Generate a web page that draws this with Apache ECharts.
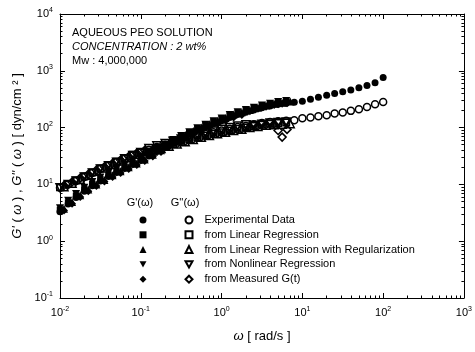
<!DOCTYPE html>
<html>
<head>
<meta charset="utf-8">
<script src="https://cdn.jsdelivr.net/npm/echarts@6/dist/echarts.min.js"></script>
<style>html,body{margin:0;padding:0;background:#fff}#c{width:475px;height:352px}</style>
</head>
<body>
<div id="c"></div>
<script>
// ---- Data ----
const omegaExp = [0.01,0.0126,0.0158,0.02,0.0251,0.0316,0.0398,0.0501,0.0631,0.0794,0.1,0.126,0.158,0.2,0.251,0.316,0.398,0.501,0.631,0.794,1,1.26,1.58,2,2.51,3.16,3.98,5.01,6.31,7.94,10,12.6,15.8,20,25.1,31.6,39.8,50.1,63.1,79.4,100];
const gPrimeExp = [3.3,4.5,5.9,7.6,9.5,11.5,13.8,16.2,19.1,22.4,26.3,31.6,38.0,45.7,55.0,64.6,75.9,89.1,102,117,132,151,170,186,204,224,240,257,269,280,292,316,343,372,398,427,457,501,550,617,759];
const gDoubleExp = [8.7,10.0,11.5,13.5,15.8,18.6,21.4,24.5,28.2,32.4,36.3,40.7,45.7,50.1,55.0,60.3,66.1,72.4,77.6,83.2,89.1,95.5,102,107,115,120,126,129,132,135,146,151,158,165,177,185,197,211,231,258,283];

const omegaFit = [0.01,0.0126,0.0158,0.02,0.0251,0.0316,0.0398,0.0501,0.0631,0.0794,0.1,0.126,0.158,0.2,0.251,0.316,0.398,0.501,0.631,0.794,1,1.26,1.58,2,2.51,3.16,3.98,5.01,6.31];
const omegaFitHalf = [0.0112,0.0141,0.0178,0.0224,0.0282,0.0355,0.0447,0.0562,0.0708,0.0891,0.112,0.141,0.178,0.224,0.282,0.355,0.447,0.562,0.708,0.891,1.12,1.41,1.78,2.24,2.82,3.55,4.47,5.62,7.08];

const gPrimeLin = [3.55,4.79,6.31,8.13,10.2,12.3,14.8,17.4,20.4,24.0,28.2,33.9,40.7,49.0,58.9,69.2,81.3,95.5,110,126,141,162,182,200,219,240,257,275,288];
const gDoubleLin = [8.91,10.2,11.7,13.8,16.2,19.1,21.9,25.1,28.8,33.1,37.2,38.0,42.7,46.8,51.3,56.2,61.7,67.6,72.4,77.6,83.2,89.1,95.5,100,107,112,117,120,123];

const gPrimeReg = [3.72,4.90,6.46,8.13,10.0,12.0,14.5,17.0,20.0,23.4,27.5,33.1,39.8,52.5,63.1,74.1,87.1,100,115,132,148,170,186,204,224,245,263,275,288];
const gDoubleReg = [9.12,10.5,12.3,14.5,17.0,19.5,22.4,25.7,29.5,33.9,38.0,38.9,42.7,46.8,51.3,56.2,61.7,67.6,72.4,77.6,83.2,89.1,93.3,100,105,110,112,115,117];

const gPrimeNonlin = [3.80,5.13,6.76,8.71,11.0,13.2,15.8,18.6,21.9,25.7,30.2,36.3,43.7,50.1,60.3,70.8,83.2,97.7,112,129,145,166,186,204,224,245,263,282,295];
const gDoubleNonlin = [8.71,10.0,11.5,13.5,15.8,18.6,21.4,24.5,28.2,32.4,36.3,42.7,47.9,52.5,57.5,63.1,69.2,75.9,81.3,87.1,93.3,100,107,112,110,115,120,123,126];

const omegaGt = [0.0112,0.0141,0.0178,0.0224,0.0282,0.0355,0.0447,0.0562,0.0708,0.0891,0.112,0.141,0.178,0.224,0.282,0.355,0.447,0.562,0.708,0.891,1.12,1.41,1.78,2.24,2.82,3.55,4.47,5.01,5.62,6.46];
const gPrimeGt = [3.47,4.57,6.03,7.59,9.33,11.2,13.5,15.8,18.6,21.9,25.7,30.9,37.2,46.8,56.2,66.1,77.6,89.1,102,117,132,151,166,195,214,234,251,257,263,269];
const gDoubleGt = [9.55,11.0,12.9,15.1,17.8,20.4,23.4,26.9,30.9,35.5,39.8,39.8,43.7,47.9,52.5,57.5,63.1,69.2,74.1,79.4,85.1,91.2,95.5,102,107,112,115,89,68,93];

const methodLabels = ['Experimental Data','from Linear Regression','from Linear Regression with Regularization','from Nonlinear Regression','from Measured G(t)'];
const xTickExps = [-2,-1,0,1,2,3];
const yTickExps = [-1,0,1,2,3,4];
const annotation = ['AQUEOUS PEO SOLUTION','CONCENTRATION : 2 wt%','Mw : 4,000,000'];

// ---- Build ----
const FONT = 'Liberation Sans, Arial, Helvetica, sans-serif';
const DOWN_TRI = 'path://M0,0 L10,0 L5,9 Z';
function zip(xs, ys){ return xs.map((x,i)=>[x, ys[i]]); }
const sets = [
  {w: omegaExp, gp: gPrimeExp, gd: gDoubleExp, sym: 'circle', size: 7},
  {w: omegaFit, gp: gPrimeLin, gd: gDoubleLin, sym: 'rect', size: 6.5},
  {w: omegaFitHalf, gp: gPrimeReg, gd: gDoubleReg, sym: 'triangle', size: 8},
  {w: omegaFit, gp: gPrimeNonlin, gd: gDoubleNonlin, sym: DOWN_TRI, size: 8},
  {w: omegaGt, gp: gPrimeGt, gd: gDoubleGt, sym: 'diamond', size: 8}
];
const series = [];
const filledNames = [], openNames = [];
const order = [1,2,3,4,0];
order.forEach(k => {
  const s = sets[k];
  series.push({
    name: "G'' " + methodLabels[k], type: 'scatter', data: zip(s.w, s.gd), symbol: s.sym, symbolSize: s.size,
    itemStyle: {color: 'rgba(255,255,255,0)', borderColor: '#000', borderWidth: 1.5, opacity: 1}, z: 2,
    emphasis: {disabled: true}
  });
  series.push({
    name: "G' " + methodLabels[k], type: 'scatter', data: zip(s.w, s.gp), symbol: s.sym, symbolSize: s.size,
    itemStyle: {color: '#000', borderWidth: 0, opacity: 1}, z: 3,
    emphasis: {disabled: true}
  });
});
for (let k = 0; k < 5; k++) { filledNames.push("G' " + methodLabels[k]); openNames.push("G'' " + methodLabels[k]); }

function powLabel(v){ const e = Math.round(Math.log10(v)); return '{b|10}{e|' + e + '}'; }
const richTick = {
  b: {fontSize: 11, fontFamily: FONT, color: '#000'},
  e: {fontSize: 7, fontFamily: FONT, color: '#000', padding: [0,0,7,0]}
};
const axisCommon = {
  type: 'log', logBase: 10,
  axisLine: {show: true, lineStyle: {color: '#000', width: 1}},
  axisTick: {show: true, inside: true, length: 5, lineStyle: {color: '#000'}},
  minorTick: {show: true, splitNumber: 9, length: 2.5, lineStyle: {color: '#000'}},
  splitLine: {show: false}, minorSplitLine: {show: false}
};

const chart = echarts.init(document.getElementById('c'), null, {renderer: 'canvas'});
chart.setOption({
  animation: false,
  backgroundColor: '#fff',
  grid: {left: 60, right: 11, top: 14, bottom: 54},
  xAxis: [
    Object.assign({}, axisCommon, {
      position: 'bottom', min: Math.pow(10, xTickExps[0]), max: Math.pow(10, xTickExps[xTickExps.length-1]),
      axisLabel: {formatter: powLabel, rich: richTick, margin: 8},
      name: '{i|ω} [ rad/s ]', nameLocation: 'middle', nameGap: 32,
      nameTextStyle: {fontSize: 13, fontFamily: FONT, color: '#000', rich: {i: {fontSize: 13, fontStyle: 'italic', fontFamily: FONT}}}
    }),
    Object.assign({}, axisCommon, {
      position: 'top', min: Math.pow(10, xTickExps[0]), max: Math.pow(10, xTickExps[xTickExps.length-1]),
      axisLabel: {show: false}
    })
  ],
  yAxis: [
    Object.assign({}, axisCommon, {
      position: 'left', min: Math.pow(10, yTickExps[0]), max: Math.pow(10, yTickExps[yTickExps.length-1]),
      axisLabel: {formatter: powLabel, rich: richTick, margin: 7},
      name: "{i|G'} ( {i|ω} ) , {i|G''} ( {i|ω} ) [ dyn/cm ² ]", nameLocation: 'middle', nameGap: 34, nameRotate: 90,
      nameTextStyle: {fontSize: 13, fontFamily: FONT, color: '#000', rich: {i: {fontSize: 13, fontStyle: 'italic', fontFamily: FONT}}}
    }),
    Object.assign({}, axisCommon, {
      position: 'right', min: Math.pow(10, yTickExps[0]), max: Math.pow(10, yTickExps[yTickExps.length-1]),
      axisLabel: {show: false}
    })
  ],
  legend: [
    {
      data: filledNames, orient: 'vertical', left: 134.5, top: 209, itemWidth: 7, itemHeight: 7, itemGap: 2.8,
      selectedMode: false, formatter: () => ' ',
      textStyle: {fontSize: 11, lineHeight: 12, fontFamily: FONT, color: '#000'}
    },
    {
      data: openNames, orient: 'vertical', left: 179.5, top: 209, itemWidth: 7, itemHeight: 7, itemGap: 2.8,
      selectedMode: false, formatter: (n) => methodLabels[openNames.indexOf(n)],
      textStyle: {fontSize: 11, lineHeight: 12, fontFamily: FONT, color: '#000', padding: [0,0,0,7]}
    }
  ],
  graphic: [
    {type: 'text', x: 72, y: 33, style: {text: annotation[0], fontSize: 11, fontFamily: FONT, fill: '#000', align: 'left', verticalAlign: 'middle'}},
    {type: 'text', x: 72, y: 47, style: {text: annotation[1], fontSize: 11, fontStyle: 'italic', fontFamily: FONT, fill: '#000', align: 'left', verticalAlign: 'middle'}},
    {type: 'text', x: 72, y: 61, style: {text: annotation[2], fontSize: 11, fontFamily: FONT, fill: '#000', align: 'left', verticalAlign: 'middle'}},
    {type: 'text', x: 140, y: 203, style: {text: "G'(ω)", fontSize: 11, fontFamily: FONT, fill: '#000', align: 'center', verticalAlign: 'middle'}},
    {type: 'text', x: 185, y: 203, style: {text: "G''(ω)", fontSize: 11, fontFamily: FONT, fill: '#000', align: 'center', verticalAlign: 'middle'}}
  ],
  series: series
});
</script>
</body>
</html>
